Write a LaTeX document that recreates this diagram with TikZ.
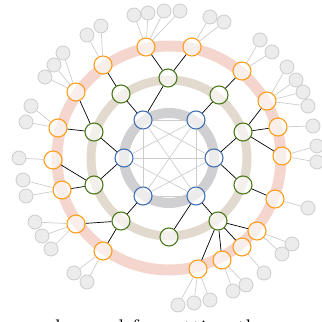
\documentclass[tikz,border=0pt]{standalone}
\usepackage{xcolor}

\definecolor{hubblue}{RGB}{68,114,178}
\definecolor{midgreen}{RGB}{78,122,28}
\definecolor{outorange}{RGB}{255,157,28}
\definecolor{ringgray}{RGB}{208,208,210}
\definecolor{ringbeige}{RGB}{226,217,207}
\definecolor{ringpink}{RGB}{244,214,206}
\definecolor{leafgray}{RGB}{205,205,205}

\begin{document}
\begin{tikzpicture}[
    x=1pt, y=-1pt,
    ring/.style={line width=9pt},
    hub/.style={circle, draw=hubblue, line width=1.1pt, fill=white,
                fill opacity=0.6, minimum size=18pt, inner sep=0pt},
    mid/.style={hub, draw=midgreen},
    outer/.style={hub, draw=outorange},
    leaf/.style={circle, draw=leafgray, line width=0.8pt, fill=gray!15,
                 minimum size=14pt, inner sep=0pt},
    link/.style={black, line width=0.7pt},
    faint/.style={leafgray, line width=0.7pt}
]

\useasboundingbox (0,0) rectangle (322,322);

% Ringe
\coordinate (c) at (169,158);
\draw[ring, ringgray, line width=10pt] (c) circle[radius=45];
\draw[ring, ringbeige] (c) circle[radius=78];
\draw[ring, ringpink, line width=11pt] (c) circle[radius=112];

% innerer Ring
\node[hub] (b1) at (143,120) {};
\node[hub] (b2) at (196,120) {};
\node[hub] (b3) at (214,158) {};
\node[hub] (b4) at (196,196) {};
\node[hub] (b5) at (143,196) {};
\node[hub] (b6) at (124,158) {};

\foreach \i in {1,...,5} {
  \foreach \j in {\i,...,6} {
    \ifnum\i<\j \draw[faint] (b\i) -- (b\j); \fi
  }
}

% mittlerer Ring
\node[mid] (g1)  at (168,78)  {};
\node[mid] (g2)  at (219,95)  {};
\node[mid] (g3)  at (243,132) {};
\node[mid] (g4)  at (243,185) {};
\node[mid] (g5)  at (218,221) {};
\node[mid] (g6)  at (169,237) {};
\node[mid] (g7)  at (121,221) {};
\node[mid] (g8)  at (94,185)  {};
\node[mid] (g9)  at (94,132)  {};
\node[mid] (g10) at (121,94)  {};

\foreach \a/\b in {b1/g1, b1/g10, b2/g2, b3/g3, b3/g4, b4/g5, b4/g6,
                   b5/g7, b6/g8, b6/g9}
  \draw[link] (\a) -- (\b);

% aeusserer Ring
\node[outer] (o1)  at (146,47)  {};
\node[outer] (o2)  at (192,47)  {};
\node[outer] (o3)  at (242,71)  {};
\node[outer] (o4)  at (267,101) {};
\node[outer] (o5)  at (278,127) {};
\node[outer] (o6)  at (282,156) {};
\node[outer] (o7)  at (275,199) {};
\node[outer] (o8)  at (257,231) {};
\node[outer] (o9)  at (242,247) {};
\node[outer] (o10) at (222,260) {};
\node[outer] (o11) at (198,269) {};
\node[outer] (o12) at (103,251) {};
\node[outer] (o13) at (76,224)  {};
\node[outer] (o14) at (62,190)  {};
\node[outer] (o15) at (53,160)  {};
\node[outer] (o16) at (58,128)  {};
\node[outer] (o17) at (76,92)   {};
\node[outer] (o18) at (103,65)  {};

\foreach \a/\b in {g1/o1, g1/o2, g2/o3, g3/o4, g3/o5, g3/o6, g4/o7,
                   g5/o8, g5/o9, g5/o10, g5/o11, g7/o12, g7/o13,
                   g8/o14, g8/o15, g9/o16, g9/o17, g10/o18}
  \draw[link] (\a) -- (\b);

% Blaetter
\foreach \x/\y/\p [count=\i] in {
    134/15/o1, 148/13/o1, 164/11/o1, 180/11/o1,
    210/17/o2, 224/22/o2,
    260/40/o3, 272/52/o3,
    287/67/o4, 296/80/o4, 303/92/o4, 308/106/o4,
    313/126/o5,
    317/146/o6, 317/162/o6,
    308/208/o7,
    282/254/o8, 292/244/o8,
    264/273/o9,
    233/291/o10, 246/285/o10,
    178/305/o11, 194/303/o11, 210/300/o11,
    74/273/o12, 87/282/o12,
    35/222/o13, 42/236/o13, 51/249/o13,
    23/180/o14, 26/196/o14,
    19/158/o15,
    31/106/o16, 26/122/o16,
    63/53/o17, 54/65/o17, 45/77/o17,
    87/35/o18, 101/26/o18} {
  \node[leaf] (l\i) at (\x,\y) {};
  \draw[faint] (\p) -- (l\i);
}

% angeschnittene Textzeile unten
\node[anchor=base west, inner sep=0pt, font=\fontsize{24}{28}\selectfont]
  (caption) at (55,336) {learned for setting the};

\end{tikzpicture}
\end{document}
